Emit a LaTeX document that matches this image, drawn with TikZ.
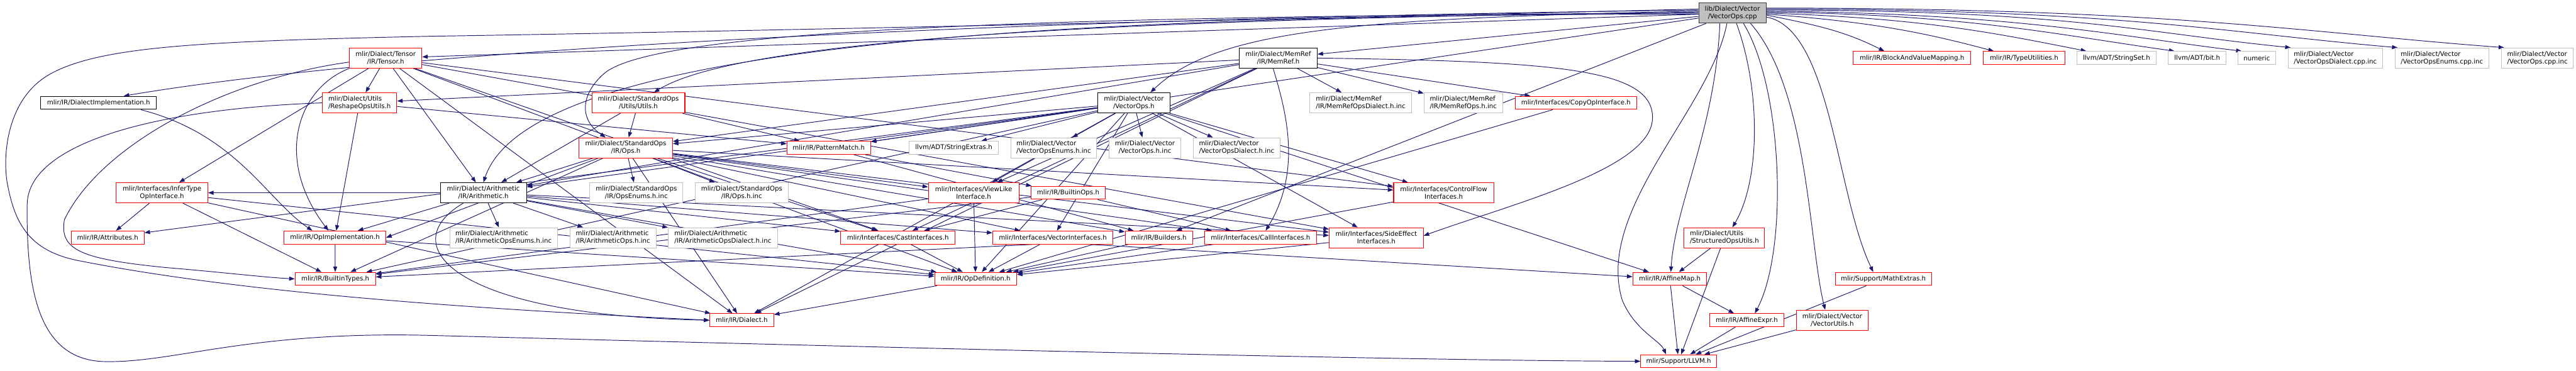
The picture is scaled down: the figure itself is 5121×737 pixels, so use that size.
\documentclass[tikz,border=0pt]{standalone}
\usepackage{fontspec}
\setmainfont{DejaVu Sans}
\usetikzlibrary{arrows.meta}
\definecolor{edgec}{HTML}{191970}
\definecolor{boxgray}{HTML}{BFBFBF}
\definecolor{rootgray}{HTML}{BFBFBF}
\pgfdeclarelayer{back}
\pgfdeclarelayer{bg}
\pgfsetlayers{back,bg,main}
\newcommand\twol[2]{%
  \setbox0=\hbox{#1}\setbox2=\hbox{#2}%
  \ifdim\wd0>\wd2 \dimen0=\wd0 \else \dimen0=\wd2 \fi
  \vbox{\baselineskip=15pt\hbox to\dimen0{\box0\hfil}\hbox to\dimen0{\hfil\box2\hfil}}}
\newcommand\N[7]{\node[#2,minimum width=#5pt,minimum height=#6pt] (#1) at (#3,#4) {#7};}
\newcommand\E[3][]{\draw[e,#1] (#2) -- (#3);}
\tikzset{
  nb/.style={draw, rectangle, fill=white, line width=1.3pt, inner sep=2pt,
    font=\fontsize{12.8}{15}\selectfont, text=black},
  rn/.style={nb, draw=red},
  bn/.style={nb, draw=black},
  gn/.style={nb, draw=boxgray},
  root/.style={nb, draw=black!80, fill=rootgray},
  e/.style={draw=edgec, line width=1.2pt, -{Triangle[length=11pt,width=8pt]}},
}
\begin{document}
\begin{tikzpicture}[x=1pt,y=1pt]
\begin{pgfonlayer}{back}
\fill[white] (0,0) rectangle (5121,737);
\end{pgfonlayer}
\useasboundingbox (0,0) rectangle (5121,737);
% ---------------- nodes ----------------
\N{cpp}{root}{3444}{711}{134}{40}{\twol{lib/Dialect/Vector}{/VectorOps.cpp}}
\N{Tensor}{rn}{766.6}{621.5}{144}{40}{\twol{mlir/Dialect/Tensor}{/IR/Tensor.h}}
\N{MemRef}{bn}{2541}{621.5}{155}{40}{\twol{mlir/Dialect/MemRef}{/IR/MemRef.h}}
\N{BlockMap}{rn}{3801}{621.7}{234}{26}{mlir/IR/BlockAndValueMapping.h}
\N{TypeUtil}{rn}{4023.7}{621.7}{163}{26}{mlir/IR/TypeUtilities.h}
\N{StringSet}{gn}{4207.6}{621.7}{158}{26}{llvm/ADT/StringSet.h}
\N{bit}{gn}{4368}{621.7}{115}{26}{llvm/ADT/bit.h}
\N{numeric}{gn}{4486.4}{621.7}{75}{26}{numeric}
\N{VODialectCpp}{gn}{4642.5}{621.7}{188}{40}{\twol{mlir/Dialect/Vector}{/VectorOpsDialect.cpp.inc}}
\N{VOEnumsCpp}{gn}{4854.4}{621.7}{187}{40}{\twol{mlir/Dialect/Vector}{/VectorOpsEnums.cpp.inc}}
\N{VOCpp}{gn}{5044.2}{621.7}{143}{40}{\twol{mlir/Dialect/Vector}{/VectorOps.cpp.inc}}
\N{DialectImpl}{bn}{196}{532.5}{230}{26}{mlir/IR/DialectImplementation.h}
\N{Reshape}{rn}{714.8}{532.5}{148}{40}{\twol{mlir/Dialect/Utils}{/ReshapeOpsUtils.h}}
\N{StdUtils}{rn}{1269}{532.5}{185}{40}{\twol{mlir/Dialect/StandardOps}{/Utils/Utils.h}}
\N{VectorOpsH}{bn}{2254}{532.5}{143}{40}{\twol{mlir/Dialect/Vector}{/VectorOps.h}}
\N{MROpsDialectInc}{gn}{2705}{532.5}{203}{40}{\twol{mlir/Dialect/MemRef}{/IR/MemRefOpsDialect.h.inc}}
\N{MROpsInc}{gn}{2909}{532.5}{156}{40}{\twol{mlir/Dialect/MemRef}{/IR/MemRefOps.h.inc}}
\N{CopyOp}{rn}{3133}{532.5}{242}{26}{mlir/Interfaces/CopyOpInterface.h}
\N{StdOps}{rn}{1244}{443}{186}{40}{\twol{mlir/Dialect/StandardOps}{/IR/Ops.h}}
\N{PatternMatch}{rn}{1647.5}{443}{166}{26}{mlir/IR/PatternMatch.h}
\N{StringExtras}{gn}{1896}{443}{178}{26}{llvm/ADT/StringExtras.h}
\N{VOEnumsInc}{gn}{2094.7}{443}{171}{40}{\twol{mlir/Dialect/Vector}{/VectorOpsEnums.h.inc}}
\N{VOInc}{gn}{2276}{443}{143}{40}{\twol{mlir/Dialect/Vector}{/VectorOps.h.inc}}
\N{VODialectInc}{gn}{2458.4}{443}{173}{40}{\twol{mlir/Dialect/Vector}{/VectorOpsDialect.h.inc}}
\N{InferType}{rn}{322}{353.7}{182}{40}{\twol{mlir/Interfaces/InferType}{OpInterface.h}}
\N{Arithmetic}{bn}{961}{353.7}{171}{40}{\twol{mlir/Dialect/Arithmetic}{/IR/Arithmetic.h}}
\N{StdOpsEnums}{gn}{1265}{353.7}{185}{40}{\twol{mlir/Dialect/StandardOps}{/IR/OpsEnums.h.inc}}
\N{StdOpsInc}{gn}{1474.5}{353.7}{185}{40}{\twol{mlir/Dialect/StandardOps}{/IR/Ops.h.inc}}
\N{ViewLike}{rn}{1935.6}{353.7}{180}{40}{\twol{mlir/Interfaces/ViewLike}{Interface.h}}
\N{BuiltinOps}{rn}{2123.5}{353.7}{148}{26}{mlir/IR/BuiltinOps.h}
\N{ControlFlow}{rn}{2870}{353.7}{199}{40}{\twol{mlir/Interfaces/ControlFlow}{Interfaces.h}}
\N{Attributes}{rn}{214}{264.7}{145}{26}{mlir/IR/Attributes.h}
\N{OpImpl}{rn}{666}{264.7}{202}{26}{mlir/IR/OpImplementation.h}
\N{ArithEnums}{gn}{1001}{264.3}{214}{40}{\twol{mlir/Dialect/Arithmetic}{/IR/ArithmeticOpsEnums.h.inc}}
\N{ArithOps}{gn}{1218.6}{264.3}{171}{40}{\twol{mlir/Dialect/Arithmetic}{/IR/ArithmeticOps.h.inc}}
\N{ArithDialect}{gn}{1437}{264.3}{217}{40}{\twol{mlir/Dialect/Arithmetic}{/IR/ArithmeticOpsDialect.h.inc}}
\N{CastIf}{rn}{1785}{264.7}{227}{26}{mlir/Interfaces/CastInterfaces.h}
\N{VecIf}{rn}{2093}{264.7}{239}{26}{mlir/Interfaces/VectorInterfaces.h}
\N{Builders}{rn}{2303.7}{264.7}{134}{26}{mlir/IR/Builders.h}
\N{CallIf}{rn}{2506}{264.7}{222}{26}{mlir/Interfaces/CallInterfaces.h}
\N{SideEffect}{rn}{2736}{264.3}{187}{40}{\twol{mlir/Interfaces/SideEffect}{Interfaces.h}}
\N{StructOps}{rn}{3428}{264.3}{160}{40}{\twol{mlir/Dialect/Utils}{/StructuredOpsUtils.h}}
\N{BuiltinTypes}{rn}{666.5}{182.5}{160}{26}{mlir/IR/BuiltinTypes.h}
\N{OpDef}{rn}{1939.5}{182.5}{163}{26}{mlir/IR/OpDefinition.h}
\N{AffineMap}{rn}{3319.5}{182.5}{147}{26}{mlir/IR/AffineMap.h}
\N{MathExtras}{rn}{3744}{182.5}{191}{26}{mlir/Support/MathExtras.h}
\N{Dialect}{rn}{1474.5}{100.3}{127}{26}{mlir/IR/Dialect.h}
\N{AffineExpr}{rn}{3472.5}{100.3}{147}{26}{mlir/IR/AffineExpr.h}
\N{VectorUtils}{rn}{3642.4}{100.3}{143}{40}{\twol{mlir/Dialect/Vector}{/VectorUtils.h}}
\N{LLVM}{rn}{3337}{18.7}{150.5}{26}{mlir/Support/LLVM.h}
% ---------------- edges ----------------
\begin{pgfonlayer}{bg}
% from the .cpp file
\E{cpp}{Tensor}
\E{cpp}{MemRef}
\draw[e] ([yshift=4pt]cpp.west) .. controls (2700,700) and (2420,680) .. ([xshift=33pt]VectorOpsH.north);
\draw[e] ([yshift=2pt]cpp.west) .. controls (2300,700) and (1480,665) .. ([xshift=31pt]StdUtils.north);
\draw[e] (cpp.west) .. controls (2100,705) and (1300,680) .. (1200,590) .. controls (1155,550) and (1150,500) .. ([xshift=-40pt]StdOps.north);
\draw[e] ([yshift=-2pt]cpp.west) .. controls (2000,708) and (1050,640) .. (Arithmetic.north);
\draw[e] ([yshift=6pt]cpp.west) .. controls (2000,700) and (800,640) .. ([xshift=50pt]DialectImpl.north);
\E{cpp}{PatternMatch}
\E{cpp}{Builders}
\draw[e] ([xshift=8pt]cpp.south) .. controls (3500,560) and (3500,380) .. ([xshift=16pt]StructOps.north);
\draw[e] ([xshift=22pt]cpp.south) .. controls (3545,560) and (3555,240) .. ([xshift=16pt]AffineExpr.north);
\draw[e] ([xshift=36pt]cpp.south) .. controls (3595,560) and (3596,250) .. ([xshift=-14pt]VectorUtils.north);
\draw[e] ([yshift=-8pt]cpp.east) .. controls (3640,680) and (3650,350) .. ([xshift=-20pt]MathExtras.north);
\draw[e] ([xshift=-25pt]cpp.south) .. controls (3410,480) and (3330,330) .. ([xshift=2pt]AffineMap.north);
\draw[e] ([xshift=-11pt]cpp.south) .. controls (3400,520) and (3170,320) .. (3225,140) .. controls (3250,80) and (3300,60) .. ([xshift=-25pt]LLVM.north);
\draw[e] ([yshift=-4pt]cpp.east) .. controls +(100,-20) and +(-80,40) .. ([xshift=-55pt]BlockMap.north);
\draw[e] ([yshift=-2pt]cpp.east) .. controls +(200,-15) and +(-150,40) .. ([xshift=-60pt]TypeUtil.north);
\draw[e] ([yshift=0pt]cpp.east) .. controls +(300,-10) and +(-200,40) .. ([xshift=-60pt]StringSet.north);
\draw[e] ([yshift=2pt]cpp.east) .. controls +(400,-5) and +(-250,35) .. ([xshift=-45pt]bit.north);
\draw[e] ([yshift=4pt]cpp.east) .. controls +(500,-5) and +(-250,30) .. ([xshift=-30pt]numeric.north);
\draw[e] ([yshift=6pt]cpp.east) .. controls +(600,0) and +(-300,30) .. ([xshift=6pt]VODialectCpp.north west);
\draw[e] ([yshift=8pt]cpp.east) .. controls +(700,0) and +(-350,30) .. ([xshift=6pt]VOEnumsCpp.north west);
\draw[e] ([yshift=10pt]cpp.east) .. controls +(800,0) and +(-400,30) .. ([xshift=6pt]VOCpp.north west);
\draw[e] ([yshift=8pt]cpp.west) .. controls (2200,690) and (1200,670) .. (860,665) .. controls (400,655) and (200,645) .. (100,590) .. controls (10,540) and (5,420) .. (15,370) .. controls (30,290) and (60,240) .. (150,220) .. controls (500,150) and (1000,120) .. (Dialect.west);
% MemRef
\E{MemRef}{MROpsDialectInc}
\E{MemRef}{MROpsInc}
\E{MemRef}{CopyOp}
\draw[e] (MemRef.east) .. controls (3100,615) and (3290,600) .. (3285,500) .. controls (3280,400) and (3000,330) .. ([yshift=4pt]SideEffect.east);
\E{MemRef}{Reshape}
\E{MemRef}{Arithmetic}
\E{MemRef}{StdOps}
\E{MemRef}{Dialect}
\draw[e] ([xshift=-10pt]MemRef.south) .. controls (2555,520) and (2590,400) .. ([xshift=10pt]CallIf.north);
\E{MemRef}{CastIf}
\E{MemRef}{ViewLike}
% Tensor
\E{Tensor}{Reshape}
\E{Tensor}{InferType}
\draw[e] (Tensor.south west) .. controls (590,560) and (545,420) .. ([xshift=-13pt]OpImpl.north);
\draw[e] ([yshift=-8pt]Tensor.west) .. controls (450,580) and (200,450) .. (128,300) .. controls (118,240) and (160,222) .. (330,205) .. controls (450,195) and (520,186) .. (BuiltinTypes.west);
\E{Tensor}{Arithmetic}
\E{Tensor}{Dialect}
\E{Tensor}{OpDef}
\E{Tensor}{CastIf}
\E{Tensor}{ControlFlow}
\E{Tensor}{SideEffect}
% ReshapeOpsUtils
\E{Reshape}{OpImpl}
\E{Reshape}{PatternMatch}
\draw[e] (Reshape.west) .. controls (300,520) and (55,450) .. (54,330) .. controls (52,150) and (80,20) .. (210,18) .. controls (350,16) and (500,80) .. (860,70) .. controls (1800,45) and (2800,20) .. (LLVM.west);
% DialectImplementation
\draw[e] ([xshift=84pt]DialectImpl.south) .. controls (470,470) and (530,340) .. ([xshift=-45pt]OpImpl.north);
% StandardOps Utils
\E{StdUtils}{StdOps}
\E{StdUtils}{Arithmetic}
\E{StdUtils}{PatternMatch}
% StandardOps Ops.h
\E{StdOps}{Arithmetic}
\E{StdOps}{StdOpsEnums}
\E{StdOps}{StdOpsInc}
\E{StdOps}{Builders}
\E{StdOps}{BuiltinTypes}
\E{StdOps}{Dialect}
\E{StdOps}{OpImpl.east}
\E{StdOps}{CallIf}
\E{StdOps}{CastIf}
\E{StdOps}{ControlFlow}
\E{StdOps}{SideEffect}
\E{StdOps}{VecIf}
\E{StdOps}{ViewLike}
% VectorOps.h
\E{VectorOpsH}{StringExtras}
\E{VectorOpsH}{VOEnumsInc}
\E{VectorOpsH}{VOInc}
\E{VectorOpsH}{VODialectInc}
\E{VectorOpsH}{Arithmetic}
\E{VectorOpsH}{StdOps}
\E{VectorOpsH}{AffineMap}
\E{VectorOpsH}{Attributes}
\E{VectorOpsH}{BuiltinTypes}
\E{VectorOpsH}{Dialect}
\E{VectorOpsH}{OpDef}
\E{VectorOpsH}{PatternMatch}
\E{VectorOpsH}{ControlFlow}
\E{VectorOpsH}{SideEffect}
\E{VectorOpsH}{VecIf}
\E{VectorOpsH}{ViewLike}
% Arithmetic
\E{Arithmetic}{ArithEnums}
\E{Arithmetic}{ArithOps}
\E{Arithmetic}{ArithDialect}
\draw[e] ([xshift=-40pt]Arithmetic.south) .. controls (780,250) and (900,110) .. (Dialect.west);
\E{Arithmetic}{OpDef}
\E{Arithmetic}{OpImpl}
\E{Arithmetic}{CastIf}
\E{Arithmetic}{InferType}
\E{Arithmetic}{SideEffect}
\E{Arithmetic}{VecIf}
% InferTypeOpInterface
\E{InferType}{Attributes}
\E{InferType}{BuiltinTypes}
\E{InferType}{OpDef}
\E{InferType}{Dialect}
% PatternMatch, BuiltinOps
\E{PatternMatch}{BuiltinOps}
\E{PatternMatch}{Builders}
\E{BuiltinOps}{CastIf}
\E{BuiltinOps}{CallIf}
\E{BuiltinOps}{BuiltinTypes}
% interfaces
\E{ViewLike}{OpDef}
\E{ViewLike}{BuiltinTypes}
\E{OpImpl}{BuiltinTypes}
\E{OpImpl}{OpDef}
\E{ControlFlow}{OpDef}
\E{SideEffect}{OpDef}
\E{CallIf}{OpDef}
\E{CastIf}{OpDef}
\E{VecIf}{OpDef}
\E{[xshift=73pt]VecIf.south}{AffineMap}
\E{[xshift=-40pt]VecIf.south}{BuiltinTypes}
\E{Builders}{OpDef}
\E{CopyOp}{OpDef}
\E{OpDef}{Dialect}
% affine / support
\E{StructOps}{AffineMap}
\E{StructOps}{LLVM}
\E{AffineMap}{AffineExpr}
\E{AffineMap}{LLVM}
\E{AffineExpr}{LLVM}
\E{VectorUtils}{LLVM}
\E{MathExtras}{LLVM}
\end{pgfonlayer}
\end{tikzpicture}
\end{document}
